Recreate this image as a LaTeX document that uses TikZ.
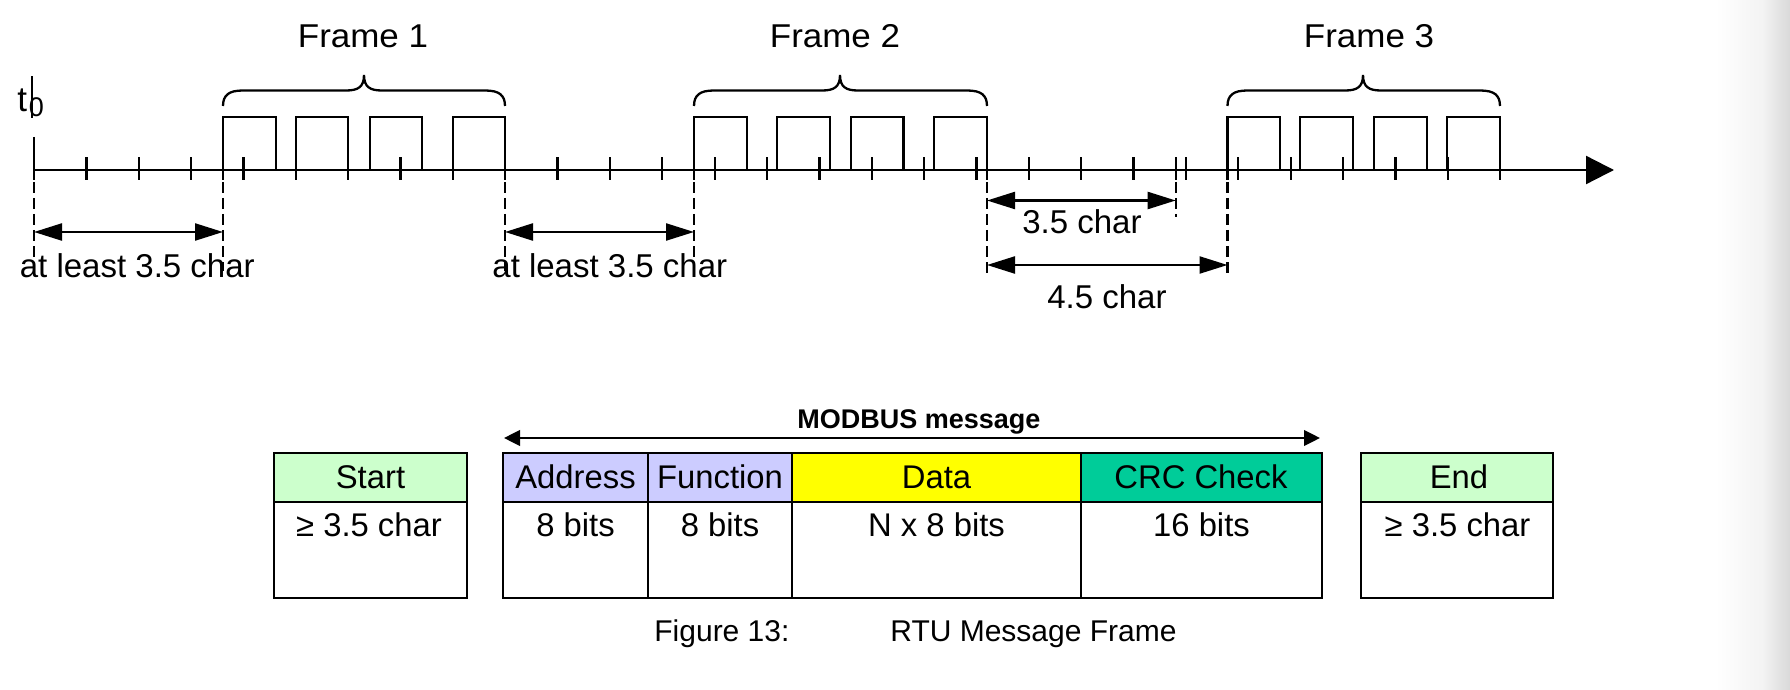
\documentclass[tikz,border=0pt]{standalone}
\usepackage{fontspec}
\setmainfont{Liberation Sans}
\usetikzlibrary{arrows.meta}
\definecolor{hdrgreen}{HTML}{CCFFCC}
\definecolor{hdrblue}{HTML}{CCCCFF}
\definecolor{hdryellow}{HTML}{FFFF00}
\definecolor{hdrcrc}{HTML}{00CC99}
\newcommand{\widetext}[1]{\scalebox{1.06}[1]{#1}}
\tikzset{
  sig/.style={line width=1.15pt},
  dimdash/.style={line width=1.15pt, dash pattern=on 5.5pt off 2.5pt},
  dimarrow/.style={line width=1.15pt, {Triangle[length=14pt,width=8.5pt]}-{Triangle[length=14pt,width=8.5pt]}},
  msgarrow/.style={line width=1.1pt, {Triangle[length=8pt,width=7.8pt]}-{Triangle[length=8pt,width=7.8pt]}},
  cellline/.style={line width=1.35pt},
  framelbl/.style={inner sep=0, anchor=base, font=\fontsize{16.5}{19}\selectfont},
  dimlbl/.style={inner sep=0, font=\fontsize{16.5}{19}\selectfont},
  celltxt/.style={inner sep=0, anchor=base, font=\fontsize{16.4}{19}\selectfont},
  captxt/.style={inner sep=0, anchor=base west, font=\fontsize{15}{18}\selectfont},
}
\begin{document}
\begin{tikzpicture}[x=0.5pt,y=-0.5pt]
\useasboundingbox (0,0) rectangle (1790,690);
% right grey band
\shade[left color=white, right color=gray!9] (1715,0) rectangle (1762,690);
\shade[left color=gray!9, right color=gray!30] (1762,0) rectangle (1790,690);

% t0 label
\node[inner sep=0, anchor=base west, font=\fontsize{17.5}{20}\selectfont] (tlbl) at (17,112) {t};
\node[inner sep=0, anchor=base west, font=\fontsize{13.5}{16}\selectfont] (tsub) at (28.5,117) {0};
\draw[sig] (32,76.5) -- (32,118.5);

% time axis
\draw[sig, -{Triangle[length=14pt,width=14pt]}] (34,170) -- (1614,170);
\draw[sig] (34,137) -- (34,180);
\foreach \k in {1,...,28} \draw[sig] ({34+52.36*\k},157.5) -- ({34+52.36*\k},180);

% pulses
\foreach \a/\b in {223/276,296/348,370/422,453/505,
                   694/747,777/830,851/903.5,934/987,
                   1227.5/1280,1300/1353,1374/1427,1447/1500}
  \draw[sig] (\a,170) -- (\a,117) -- (\b,117) -- (\b,170);

% braces
\foreach \xa/\xb/\t in {223/505/364, 694/987/840, 1227.5/1500/1363}
  \draw[sig] (\xa,106) .. controls (\xa,95) and (\xa+6,90.5) .. (\xa+20,90.5)
     -- (\t-18,90.5) .. controls (\t-6,90.5) and (\t,87) .. (\t,75)
     .. controls (\t,87) and (\t+6,90.5) .. (\t+18,90.5)
     -- (\xb-20,90.5) .. controls (\xb-6,90.5) and (\xb,95) .. (\xb,106);

\node[framelbl] (f1) at (363,48) {\widetext{Frame 1}};
\node[framelbl] (f2) at (835,48) {\widetext{Frame 2}};
\node[framelbl] (f3) at (1369,48) {\widetext{Frame 3}};

% boundary extensions below axis
\draw[sig] (223,170) -- (223,180);
\draw[sig] (694,170) -- (694,180);
\draw[sig] (987,170) -- (987,180);
\draw[sig] (1175.7,157.5) -- (1175.7,180);
\draw[sig] (1227.5,170) -- (1227.5,180);

% dashed guide lines
\coordinate (g0) at (34,270);
\coordinate (g1) at (223,271);
\coordinate (g2) at (505,271);
\coordinate (g3) at (694,271);
\coordinate (g4) at (987,273);
\coordinate (g5) at (1175.7,217);
\coordinate (g6) at (1227.5,273);
\draw[dimdash] (34,182) -- (g0);
\draw[dimdash] (223,182) -- (g1);
\draw[dimdash] (505,182) -- (g2);
\draw[dimdash] (694,182) -- (g3);
\draw[dimdash] (987,182) -- (g4);
\draw[dimdash] (1175.7,182) -- (g5);
\draw[dimdash] (1227.5,182) -- (g6);

% dimension arrows
\coordinate (a0l) at (34,232);   \coordinate (a0r) at (223,232);
\coordinate (a1l) at (505,232);  \coordinate (a1r) at (694,232);
\coordinate (a2l) at (987,200.5);\coordinate (a2r) at (1175.7,200.5);
\coordinate (a3l) at (987,265);  \coordinate (a3r) at (1227.5,265);
\draw[dimarrow] (a0l) -- (a0r);
\draw[dimarrow] (a1l) -- (a1r);
\draw[dimarrow] (a2l) -- (a2r);
\draw[dimarrow] (a3l) -- (a3r);

\node[dimlbl, anchor=base west] (d0) at (19.5,277.5) {at least 3.5 char};
\node[dimlbl, anchor=base west] (d1) at (492,278) {at least 3.5 char};
\node[dimlbl, anchor=base] (d2) at (1082,234) {3.5 char};
\node[dimlbl, anchor=base] (d3) at (1107,308) {4.5 char};

% ---- message frame table ----
\fill[hdrgreen] (274,453) rectangle (467,502);
\fill[hdrblue] (503,453) rectangle (792,502);
\fill[hdryellow] (792,453) rectangle (1081,502);
\fill[hdrcrc] (1081,453) rectangle (1322,502);
\fill[hdrgreen] (1361,453) rectangle (1553,502);

\draw[cellline] (274,453) rectangle (467,598);
\draw[cellline] (274,502) -- (467,502);
\draw[cellline] (503,453) rectangle (1322,598);
\draw[cellline] (503,502) -- (1322,502);
\foreach \x in {648,792,1081} \draw[cellline] (\x,453) -- (\x,598);
\draw[cellline] (1361,453) rectangle (1553,598);
\draw[cellline] (1361,502) -- (1553,502);

\node[celltxt] (tstart) at (370.5,488.5) {Start};
\node[celltxt] (taddr) at (575.5,488.5) {Address};
\node[celltxt] (tfunc) at (720,488.5) {Function};
\node[celltxt] (tdata) at (936.5,488.5) {Data};
\node[celltxt] (tcrc) at (1201,488.5) {CRC Check};
\node[celltxt] (tend) at (1459,488.5) {End};

\node[celltxt] (vstart) at (369,536) {≥ 3.5 char};
\node[celltxt] (vaddr) at (575.5,536) {8 bits};
\node[celltxt] (vfunc) at (720,536) {8 bits};
\node[celltxt] (vdata) at (936.5,536) {N x 8 bits};
\node[celltxt] (vcrc) at (1201.5,536) {16 bits};
\node[celltxt] (vend) at (1457.5,536) {≥ 3.5 char};

% MODBUS message arrow
\coordinate (ml) at (504,438);
\coordinate (mr) at (1320,438);
\draw[msgarrow] (ml) -- (mr);
\node[inner sep=0, anchor=base, font=\fontsize{13.5}{16}\selectfont\bfseries] (mlbl) at (919,428) {MODBUS message};

% caption
\node[captxt] (cap1) at (654,641.5) {Figure 13:};
\node[captxt] (cap2) at (890,641.5) {RTU Message Frame};
\end{tikzpicture}
\end{document}
